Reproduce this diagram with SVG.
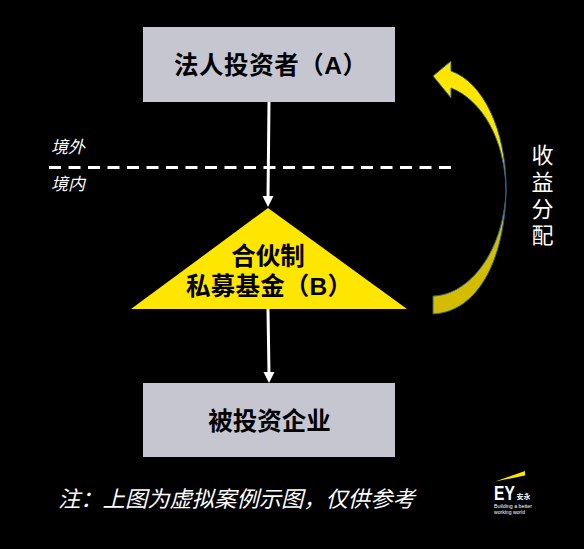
<svg xmlns="http://www.w3.org/2000/svg" width="584" height="549" viewBox="0 0 584 549">
<style>
text{font-family:"Liberation Sans","Noto Sans CJK SC",sans-serif;}
.b{fill:#c6c6d0}
.t{font-size:24.500px;font-weight:700;fill:#000}
.m{text-anchor:middle}
.i{font-style:italic;fill:#fff}
.l{stroke:#fff;stroke-width:3;fill:none}
.h{fill:#fff}
</style>
<defs>
<linearGradient id="g" x1="0" y1="0" x2="0" y2="1"><stop offset="0" stop-color="#ffe600"/><stop offset=".54" stop-color="#ffe600"/><stop offset=".56" stop-color="#d4bd00"/><stop offset="1" stop-color="#d4bd00"/></linearGradient>
</defs>
<rect width="584" height="549" fill="#000"/>
<g id="connectors">
<path class="l" d="M269 102L268 198"/>
<path class="h" d="M262.500 196H273.500L268 207Z"/>
<path class="l" d="M268 309L269 374"/>
<path class="h" d="M263.500 372H274.500L269 383Z"/>
</g>
<path id="divider" d="M49 167.500H451" stroke="#fff" stroke-width="3" stroke-dasharray="12 7.500" fill="none"/>
<g id="node-a"><rect class="b" x="143" y="27" width="252" height="75"/><text class="t" x="174" y="74" textLength="193">法人投资者（A）</text></g>
<g id="node-b"><path d="M268 208L407 309H131Z" fill="#ffe600"/><text class="t m" x="268" y="265">合伙制</text><text class="t" x="186" y="295" textLength="166">私募基金（B）</text></g>
<g id="node-c"><rect class="b" x="143" y="383" width="252" height="74"/><text class="t m" x="269.500" y="430">被投资企业</text></g>
<g id="return-arrow"><path d="M433 76L451 61L451 71C483 82 506 130 506 187C506 255 480 312 433 314L433 296C470 295 504 250 506 190C505 140 482 100 451 88L451 98Z" fill="url(#g)" stroke="#2f5d8a" stroke-width="1"/></g>
<text class="i" x="51" y="153" font-size="17">境外</text>
<text class="i" x="51" y="190" font-size="17">境内</text>
<g font-size="22" fill="#fff" text-anchor="middle"><text x="542.500" y="163">收</text><text x="542.500" y="190">益</text><text x="542.500" y="217">分</text><text x="542.500" y="243">配</text></g>
<text class="i" x="58" y="507" font-size="22.300">注：上图为虚拟案例示图，仅供参考</text>
<g id="logo"><path d="M495 481.500L525 471V475.500Z" fill="#ffe600"/>
<text transform="translate(494 500) scale(.78 1)" font-size="20" font-weight="700" fill="#fff">EY</text>
<text x="516.500" y="499" font-size="7" font-weight="700" fill="#fff">安永</text>
<text x="494" y="508" font-size="5" fill="#fff" textLength="38" lengthAdjust="spacingAndGlyphs">Building a better</text>
<text x="494" y="513.500" font-size="5" fill="#fff" textLength="31" lengthAdjust="spacingAndGlyphs">working world</text></g>
</svg>
